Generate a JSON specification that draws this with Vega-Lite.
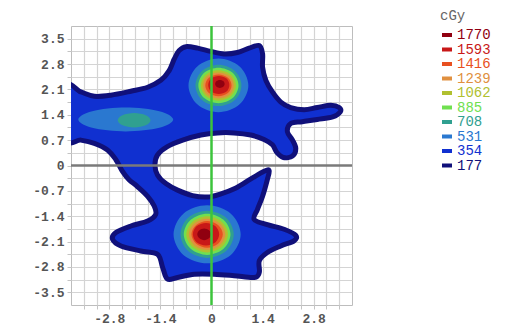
{
  "$schema": "https://vega.github.io/schema/vega-lite/v6.json",
  "width": 281,
  "height": 279,
  "autosize": {"type": "none"},
  "padding": {"left": 71, "top": 26, "right": 161, "bottom": 25},
  "background": "white",
  "config": {
    "view": {"stroke": "#bdbdbd", "strokeWidth": 1},
    "axis": {
      "title": null,
      "domain": false,
      "grid": true,
      "gridWidth": 1.2,
      "tickCount": 60,
      "tickColor": "#c4c4c4",
      "tickSize": 4,
      "labelFont": "Liberation Mono",
      "labelFontWeight": "bold",
      "labelFontSize": 13,
      "labelColor": "#555555",
      "labelPadding": 3,
      "labelOverlap": false,
      "labelFlush": false,
      "zindex": 1
    }
  },
  "datasets": {
    "region": [
      {"x":-3.95,"y":2.16},{"x":-3.58,"y":2.03},{"x":-3.21,"y":1.91},{"x":-2.76,"y":1.94},{"x":-2.21,"y":2.05},{"x":-1.75,"y":2.16},{"x":-1.39,"y":2.35},{"x":-1.16,"y":2.62},{"x":-1.02,"y":2.94},{"x":-0.89,"y":3.17},{"x":-0.70,"y":3.28},{"x":-0.38,"y":3.24},{"x":-0.02,"y":3.15},{"x":0.35,"y":3.08},{"x":0.71,"y":3.12},{"x":1.03,"y":3.24},{"x":1.31,"y":3.31},{"x":1.40,"y":3.08},{"x":1.40,"y":2.71},{"x":1.49,"y":2.35},{"x":1.67,"y":2.03},{"x":1.90,"y":1.75},{"x":2.17,"y":1.60},{"x":2.54,"y":1.54},{"x":2.90,"y":1.60},{"x":3.27,"y":1.66},{"x":3.50,"y":1.60},{"x":3.53,"y":1.48},{"x":3.32,"y":1.34},{"x":2.90,"y":1.27},{"x":2.49,"y":1.21},{"x":2.17,"y":1.16},{"x":2.08,"y":0.93},{"x":2.22,"y":0.70},{"x":2.31,"y":0.47},{"x":2.22,"y":0.26},{"x":1.97,"y":0.22},{"x":1.79,"y":0.36},{"x":1.67,"y":0.57},{"x":1.44,"y":0.72},{"x":1.08,"y":0.84},{"x":0.62,"y":0.90},{"x":0.16,"y":0.90},{"x":-0.29,"y":0.84},{"x":-0.79,"y":0.70},{"x":-1.21,"y":0.52},{"x":-1.48,"y":0.29},{"x":-1.55,"y":0.02},{"x":-1.48,"y":-0.26},{"x":-1.25,"y":-0.50},{"x":-0.93,"y":-0.68},{"x":-0.52,"y":-0.83},{"x":-0.11,"y":-0.87},{"x":0.26,"y":-0.78},{"x":0.67,"y":-0.62},{"x":1.08,"y":-0.37},{"x":1.44,"y":-0.16},{"x":1.58,"y":-0.14},{"x":1.53,"y":-0.39},{"x":1.40,"y":-0.85},{"x":1.26,"y":-1.21},{"x":1.17,"y":-1.49},{"x":1.53,"y":-1.63},{"x":1.99,"y":-1.76},{"x":2.31,"y":-1.93},{"x":2.26,"y":-2.08},{"x":1.90,"y":-2.22},{"x":1.53,"y":-2.40},{"x":1.31,"y":-2.63},{"x":1.31,"y":-2.95},{"x":1.17,"y":-3.09},{"x":0.62,"y":-3.04},{"x":0.07,"y":-3.00},{"x":-0.47,"y":-3.00},{"x":-0.93,"y":-3.09},{"x":-1.21,"y":-3.13},{"x":-1.34,"y":-2.81},{"x":-1.48,"y":-2.45},{"x":-1.94,"y":-2.36},{"x":-2.48,"y":-2.22},{"x":-2.71,"y":-2.04},{"x":-2.62,"y":-1.85},{"x":-2.21,"y":-1.67},{"x":-1.75,"y":-1.53},{"x":-1.53,"y":-1.35},{"x":-1.57,"y":-1.12},{"x":-1.75,"y":-0.85},{"x":-2.03,"y":-0.58},{"x":-2.26,"y":-0.39},{"x":-2.44,"y":-0.16},{"x":-2.62,"y":0.16},{"x":-2.85,"y":0.43},{"x":-3.21,"y":0.61},{"x":-3.58,"y":0.70},{"x":-3.95,"y":0.73}
    ],
    "iso": [
      {"id":"L531","level":531,"x":-1.05,"y":1.27},{"id":"L531","level":531,"x":-1.43,"y":1.50},{"id":"L531","level":531,"x":-2.35,"y":1.60},{"id":"L531","level":531,"x":-3.27,"y":1.50},{"id":"L531","level":531,"x":-3.65,"y":1.27},{"id":"L531","level":531,"x":-3.27,"y":1.04},{"id":"L531","level":531,"x":-2.35,"y":0.94},{"id":"L531","level":531,"x":-1.43,"y":1.04},
      {"id":"L708","level":708,"x":-1.67,"y":1.25},{"id":"L708","level":708,"x":-1.80,"y":1.39},{"id":"L708","level":708,"x":-2.12,"y":1.45},{"id":"L708","level":708,"x":-2.44,"y":1.39},{"id":"L708","level":708,"x":-2.57,"y":1.25},{"id":"L708","level":708,"x":-2.44,"y":1.11},{"id":"L708","level":708,"x":-2.12,"y":1.05},{"id":"L708","level":708,"x":-1.80,"y":1.11},
      {"id":"U531","level":531,"x":1.01,"y":2.21},{"id":"U531","level":531,"x":0.77,"y":2.73},{"id":"U531","level":531,"x":0.19,"y":2.95},{"id":"U531","level":531,"x":-0.39,"y":2.73},{"id":"U531","level":531,"x":-0.63,"y":2.21},{"id":"U531","level":531,"x":-0.39,"y":1.69},{"id":"U531","level":531,"x":0.19,"y":1.47},{"id":"U531","level":531,"x":0.77,"y":1.69},
      {"id":"U708","level":708,"x":0.82,"y":2.21},{"id":"U708","level":708,"x":0.64,"y":2.61},{"id":"U708","level":708,"x":0.19,"y":2.78},{"id":"U708","level":708,"x":-0.26,"y":2.61},{"id":"U708","level":708,"x":-0.44,"y":2.21},{"id":"U708","level":708,"x":-0.26,"y":1.81},{"id":"U708","level":708,"x":0.19,"y":1.64},{"id":"U708","level":708,"x":0.64,"y":1.81},
      {"id":"U885","level":885,"x":0.74,"y":2.21},{"id":"U885","level":885,"x":0.58,"y":2.56},{"id":"U885","level":885,"x":0.19,"y":2.70},{"id":"U885","level":885,"x":-0.20,"y":2.56},{"id":"U885","level":885,"x":-0.36,"y":2.21},{"id":"U885","level":885,"x":-0.20,"y":1.86},{"id":"U885","level":885,"x":0.19,"y":1.72},{"id":"U885","level":885,"x":0.58,"y":1.86},
      {"id":"U1062","level":1062,"x":0.67,"y":2.21},{"id":"U1062","level":1062,"x":0.53,"y":2.51},{"id":"U1062","level":1062,"x":0.19,"y":2.63},{"id":"U1062","level":1062,"x":-0.15,"y":2.51},{"id":"U1062","level":1062,"x":-0.29,"y":2.21},{"id":"U1062","level":1062,"x":-0.15,"y":1.91},{"id":"U1062","level":1062,"x":0.19,"y":1.79},{"id":"U1062","level":1062,"x":0.53,"y":1.91},
      {"id":"U1239","level":1239,"x":0.61,"y":2.21},{"id":"U1239","level":1239,"x":0.49,"y":2.47},{"id":"U1239","level":1239,"x":0.19,"y":2.57},{"id":"U1239","level":1239,"x":-0.11,"y":2.47},{"id":"U1239","level":1239,"x":-0.23,"y":2.21},{"id":"U1239","level":1239,"x":-0.11,"y":1.95},{"id":"U1239","level":1239,"x":0.19,"y":1.85},{"id":"U1239","level":1239,"x":0.49,"y":1.95},
      {"id":"U1416","level":1416,"x":0.55,"y":2.21},{"id":"U1416","level":1416,"x":0.45,"y":2.42},{"id":"U1416","level":1416,"x":0.19,"y":2.51},{"id":"U1416","level":1416,"x":-0.07,"y":2.42},{"id":"U1416","level":1416,"x":-0.17,"y":2.21},{"id":"U1416","level":1416,"x":-0.07,"y":2.00},{"id":"U1416","level":1416,"x":0.19,"y":1.91},{"id":"U1416","level":1416,"x":0.45,"y":2.00},
      {"id":"U1593","level":1593,"x":0.49,"y":2.22},{"id":"U1593","level":1593,"x":0.41,"y":2.40},{"id":"U1593","level":1593,"x":0.20,"y":2.47},{"id":"U1593","level":1593,"x":-0.01,"y":2.40},{"id":"U1593","level":1593,"x":-0.09,"y":2.22},{"id":"U1593","level":1593,"x":-0.01,"y":2.04},{"id":"U1593","level":1593,"x":0.20,"y":1.97},{"id":"U1593","level":1593,"x":0.41,"y":2.04},
      {"id":"U1770","level":1770,"x":0.36,"y":2.25},{"id":"U1770","level":1770,"x":0.32,"y":2.33},{"id":"U1770","level":1770,"x":0.23,"y":2.36},{"id":"U1770","level":1770,"x":0.14,"y":2.33},{"id":"U1770","level":1770,"x":0.10,"y":2.25},{"id":"U1770","level":1770,"x":0.14,"y":2.17},{"id":"U1770","level":1770,"x":0.23,"y":2.14},{"id":"U1770","level":1770,"x":0.32,"y":2.17},
      {"id":"D531","level":531,"x":0.80,"y":-1.90},{"id":"D531","level":531,"x":0.53,"y":-1.33},{"id":"D531","level":531,"x":-0.12,"y":-1.10},{"id":"D531","level":531,"x":-0.77,"y":-1.33},{"id":"D531","level":531,"x":-1.04,"y":-1.90},{"id":"D531","level":531,"x":-0.77,"y":-2.47},{"id":"D531","level":531,"x":-0.12,"y":-2.70},{"id":"D531","level":531,"x":0.53,"y":-2.47},
      {"id":"D708","level":708,"x":0.61,"y":-1.90},{"id":"D708","level":708,"x":0.40,"y":-1.44},{"id":"D708","level":708,"x":-0.12,"y":-1.25},{"id":"D708","level":708,"x":-0.64,"y":-1.44},{"id":"D708","level":708,"x":-0.85,"y":-1.90},{"id":"D708","level":708,"x":-0.64,"y":-2.36},{"id":"D708","level":708,"x":-0.12,"y":-2.55},{"id":"D708","level":708,"x":0.40,"y":-2.36},
      {"id":"D885","level":885,"x":0.52,"y":-1.90},{"id":"D885","level":885,"x":0.33,"y":-1.50},{"id":"D885","level":885,"x":-0.12,"y":-1.33},{"id":"D885","level":885,"x":-0.57,"y":-1.50},{"id":"D885","level":885,"x":-0.76,"y":-1.90},{"id":"D885","level":885,"x":-0.57,"y":-2.30},{"id":"D885","level":885,"x":-0.12,"y":-2.47},{"id":"D885","level":885,"x":0.33,"y":-2.30},
      {"id":"D1062","level":1062,"x":0.45,"y":-1.90},{"id":"D1062","level":1062,"x":0.28,"y":-1.55},{"id":"D1062","level":1062,"x":-0.12,"y":-1.40},{"id":"D1062","level":1062,"x":-0.52,"y":-1.55},{"id":"D1062","level":1062,"x":-0.69,"y":-1.90},{"id":"D1062","level":1062,"x":-0.52,"y":-2.25},{"id":"D1062","level":1062,"x":-0.12,"y":-2.40},{"id":"D1062","level":1062,"x":0.28,"y":-2.25},
      {"id":"D1239","level":1239,"x":0.38,"y":-1.90},{"id":"D1239","level":1239,"x":0.23,"y":-1.60},{"id":"D1239","level":1239,"x":-0.12,"y":-1.47},{"id":"D1239","level":1239,"x":-0.47,"y":-1.60},{"id":"D1239","level":1239,"x":-0.62,"y":-1.90},{"id":"D1239","level":1239,"x":-0.47,"y":-2.20},{"id":"D1239","level":1239,"x":-0.12,"y":-2.33},{"id":"D1239","level":1239,"x":0.23,"y":-2.20},
      {"id":"D1416","level":1416,"x":0.31,"y":-1.90},{"id":"D1416","level":1416,"x":0.18,"y":-1.64},{"id":"D1416","level":1416,"x":-0.12,"y":-1.53},{"id":"D1416","level":1416,"x":-0.42,"y":-1.64},{"id":"D1416","level":1416,"x":-0.55,"y":-1.90},{"id":"D1416","level":1416,"x":-0.42,"y":-2.16},{"id":"D1416","level":1416,"x":-0.12,"y":-2.27},{"id":"D1416","level":1416,"x":0.18,"y":-2.16},
      {"id":"D1593","level":1593,"x":0.21,"y":-1.90},{"id":"D1593","level":1593,"x":0.11,"y":-1.68},{"id":"D1593","level":1593,"x":-0.15,"y":-1.59},{"id":"D1593","level":1593,"x":-0.41,"y":-1.68},{"id":"D1593","level":1593,"x":-0.51,"y":-1.90},{"id":"D1593","level":1593,"x":-0.41,"y":-2.12},{"id":"D1593","level":1593,"x":-0.15,"y":-2.21},{"id":"D1593","level":1593,"x":0.11,"y":-2.12},
      {"id":"D1770","level":1770,"x":-0.01,"y":-1.90},{"id":"D1770","level":1770,"x":-0.07,"y":-1.79},{"id":"D1770","level":1770,"x":-0.20,"y":-1.74},{"id":"D1770","level":1770,"x":-0.33,"y":-1.79},{"id":"D1770","level":1770,"x":-0.39,"y":-1.90},{"id":"D1770","level":1770,"x":-0.33,"y":-2.01},{"id":"D1770","level":1770,"x":-0.20,"y":-2.06},{"id":"D1770","level":1770,"x":-0.07,"y":-2.01}
    ],
    "zero": [{"v": 0}]
  },
  "layer": [
    {
      "data": {"name": "region"},
      "mark": {"type": "line", "interpolate": "cardinal-closed", "fill": "#1030d0", "stroke": "#10107a", "strokeWidth": 5, "strokeJoin": "round", "clip": true},
      "encoding": {
        "x": {"field": "x", "type": "quantitative", "scale": {"domain": [-3.85, 3.85], "nice": false, "zero": false},
          "axis": {
            "values": [-3.5,-3.15,-2.8,-2.45,-2.1,-1.75,-1.4,-1.05,-0.7,-0.35,0,0.35,0.7,1.05,1.4,1.75,2.1,2.45,2.8,3.15,3.5],
            "labelExpr": "indexof([-2.8,-1.4,0,1.4,2.8], datum.value) >= 0 ? '' + datum.value : ''",
            "gridColor": {"condition": {"test": "datum.value === 0", "value": "transparent"}, "value": "#d4d4d4"}
          }},
        "y": {"field": "y", "type": "quantitative", "scale": {"domain": [-3.85, 3.85], "nice": false, "zero": false},
          "axis": {
            "values": [-3.5,-3.15,-2.8,-2.45,-2.1,-1.75,-1.4,-1.05,-0.7,-0.35,0,0.35,0.7,1.05,1.4,1.75,2.1,2.45,2.8,3.15,3.5],
            "labelExpr": "indexof([-3.5,-2.8,-2.1,-1.4,-0.7,0,0.7,1.4,2.1,2.8,3.5], datum.value) >= 0 ? '' + datum.value : ''",
            "gridColor": {"condition": {"test": "datum.value === 0", "value": "transparent"}, "value": "#d4d4d4"}
          }},
        "order": {"value": null}
      }
    },
    {
      "data": {"name": "iso"},
      "mark": {"type": "line", "interpolate": "cardinal-closed", "strokeWidth": 0, "clip": true},
      "encoding": {
        "x": {"field": "x", "type": "quantitative"},
        "y": {"field": "y", "type": "quantitative"},
        "detail": {"field": "id"},
        "fill": {
          "field": "level", "type": "ordinal",
          "scale": {
            "domain": [1770, 1593, 1416, 1239, 1062, 885, 708, 531, 354, 177],
            "range": ["#900010", "#c81818", "#e85020", "#e09040", "#b0c030", "#70e050", "#30a090", "#2a78d0", "#1030d0", "#10107a"]
          },
          "legend": {
            "title": "cGy",
            "orient": "none",
            "legendX": 369,
            "legendY": -17,
            "padding": 0,
            "titleFont": "Liberation Mono",
            "titleFontSize": 14,
            "titleFontWeight": "normal",
            "titleColor": "#666666",
            "titlePadding": 5,
            "labelFont": "Liberation Mono",
            "labelFontSize": 14,
            "labelColor": {"expr": "scale('fill', datum.value)"},
            "labelOffset": 3,
            "symbolType": "M-1,-0.4L1,-0.4L1,0.4L-1,0.4Z",
            "symbolSize": 100,
            "symbolStrokeWidth": 0,
            "rowPadding": 0.5
          }
        },
        "order": {"value": null}
      }
    },
    {
      "data": {"name": "zero"},
      "mark": {"type": "rule", "color": "#7a7a7a", "strokeWidth": 2.5},
      "encoding": {"y": {"field": "v", "type": "quantitative"}}
    },
    {
      "data": {"name": "zero"},
      "mark": {"type": "rule", "color": "#3cc43c", "strokeWidth": 2.5},
      "encoding": {"x": {"field": "v", "type": "quantitative"}}
    }
  ]
}
